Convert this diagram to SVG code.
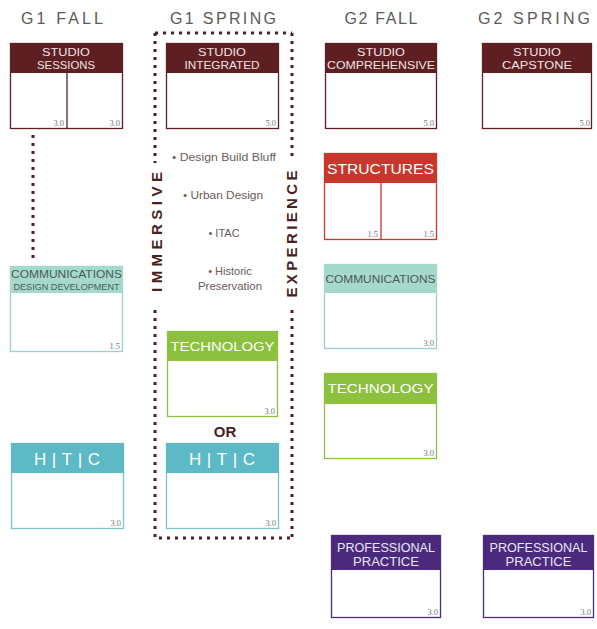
<svg xmlns="http://www.w3.org/2000/svg" width="597" height="629" viewBox="0 0 597 629">
<style>
.bg{fill:#ffffff}
.col{font-family:"Liberation Sans",Arial,sans-serif;font-size:16px;fill:#5a5a5a;text-anchor:middle}
.ht{font-family:"Liberation Sans",Arial,sans-serif;font-size:11px;text-anchor:middle;fill:#f3e2e2}
.htw{font-family:"Liberation Sans",Arial,sans-serif;text-anchor:middle;fill:#ffffff}
.htp{font-family:"Liberation Sans",Arial,sans-serif;text-anchor:middle;fill:#ece6f4}
.htd{font-family:"Liberation Sans",Arial,sans-serif;text-anchor:middle;fill:#4d5a57}
.cr{font-family:"Liberation Serif","Times New Roman",serif;font-size:8.5px;fill:#777777;text-anchor:end}
.bul{font-family:"Liberation Sans",Arial,sans-serif;font-size:11px;fill:#6a5a5a;text-anchor:middle}
.vert{font-family:"Liberation Sans",Arial,sans-serif;font-size:15px;font-weight:bold;fill:#4a1f22;text-anchor:middle}
.or{font-family:"Liberation Sans",Arial,sans-serif;font-size:15px;font-weight:bold;fill:#4a1f22;text-anchor:middle}
.dots{fill:none;stroke:#4a1f22;stroke-width:3;stroke-dasharray:3 5}
.studioH{fill:#5e1f22}
.studioB{fill:#fff;stroke:#5e1f22;stroke-width:1.3}
.strH{fill:#c9372c}
.strB{fill:#fff;stroke:#c9372c;stroke-width:1.3}
.comH{fill:#a4d9cc}
.comB{fill:#fff;stroke:#9ecfd0;stroke-width:1.3}
.tecH{fill:#8dc03f}
.tecB{fill:#fff;stroke:#8dc03f;stroke-width:1.3}
.htcH{fill:#5db9c5}
.htcB{fill:#fff;stroke:#7cc4cc;stroke-width:1.3}
.ppH{fill:#4b2a7d}
.ppB{fill:#fff;stroke:#4b2a7d;stroke-width:1.3}
</style>
<rect class="bg" x="0" y="0" width="597" height="629"/>

<g id="headings">
<text class="col" x="62" y="24" textLength="82" lengthAdjust="spacing">G1 FALL</text>
<text class="col" x="223" y="24" textLength="106" lengthAdjust="spacing">G1 SPRING</text>
<text class="col" x="381" y="24" textLength="73" lengthAdjust="spacing">G2 FALL</text>
<text class="col" x="534" y="24" textLength="112" lengthAdjust="spacing">G2 SPRING</text>
</g>

<g id="connectors">
<path class="dots" d="M155,33 H292 M155,33 V163 M155,310 V538 H292 M292,33 V160 M292,310 V538"/>
<path class="dots" d="M33,135 V263"/>
</g>

<g id="immersive-frame">
<text class="vert" transform="translate(162,232) rotate(-90)" textLength="120" lengthAdjust="spacing">IMMERSIVE</text>
<text class="vert" transform="translate(297,234) rotate(-90)" textLength="127" lengthAdjust="spacing">EXPERIENCE</text>
<text class="bul" x="224" y="161" textLength="104" lengthAdjust="spacingAndGlyphs">• Design Build Bluff</text>
<text class="bul" x="223" y="199" textLength="80" lengthAdjust="spacingAndGlyphs">• Urban Design</text>
<text class="bul" x="224" y="237">• ITAC</text>
<text class="bul" x="230" y="275">• Historic</text>
<text class="bul" x="230" y="290" textLength="64" lengthAdjust="spacingAndGlyphs">Preservation</text>
<text class="or" x="225" y="437">OR</text>
</g>

<g id="studio-sessions">
<rect class="studioB" x="10.5" y="43.5" width="112" height="85"/>
<rect class="studioH" x="10" y="43" width="113" height="30"/>
<line x1="67" y1="73" x2="67" y2="128" stroke="#5e1f22" stroke-width="1.3"/>
<text class="ht" x="66" y="56" textLength="48" lengthAdjust="spacingAndGlyphs">STUDIO</text>
<text class="ht" x="66" y="69" textLength="58" lengthAdjust="spacingAndGlyphs">SESSIONS</text>
<text class="cr" x="64" y="126">3.0</text>
<text class="cr" x="120" y="126">3.0</text>
</g>

<g id="studio-integrated">
<rect class="studioB" x="166.5" y="43.5" width="112" height="85"/>
<rect class="studioH" x="166" y="43" width="113" height="30"/>
<text class="ht" x="222" y="56" textLength="48" lengthAdjust="spacingAndGlyphs">STUDIO</text>
<text class="ht" x="222" y="69" textLength="75" lengthAdjust="spacingAndGlyphs">INTEGRATED</text>
<text class="cr" x="276" y="126">5.0</text>
</g>

<g id="studio-comprehensive">
<rect class="studioB" x="325.5" y="43.5" width="111" height="85"/>
<rect class="studioH" x="325" y="43" width="112" height="30"/>
<text class="ht" x="381" y="56" textLength="48" lengthAdjust="spacingAndGlyphs">STUDIO</text>
<text class="ht" x="381" y="69" textLength="108" lengthAdjust="spacingAndGlyphs">COMPREHENSIVE</text>
<text class="cr" x="434" y="126">5.0</text>
</g>

<g id="studio-capstone">
<rect class="studioB" x="482.5" y="43.5" width="109" height="85"/>
<rect class="studioH" x="482" y="43" width="110" height="30"/>
<text class="ht" x="537" y="56" textLength="48" lengthAdjust="spacingAndGlyphs">STUDIO</text>
<text class="ht" x="537" y="69" textLength="70" lengthAdjust="spacingAndGlyphs">CAPSTONE</text>
<text class="cr" x="590" y="126">5.0</text>
</g>

<g id="structures">
<rect class="strB" x="324.5" y="153.5" width="112" height="86"/>
<rect class="strH" x="324" y="153" width="113" height="30"/>
<line x1="381" y1="183" x2="381" y2="239" stroke="#c9372c" stroke-width="1.3"/>
<text class="htw" x="380.5" y="174" font-size="15.5" textLength="107" lengthAdjust="spacingAndGlyphs">STRUCTURES</text>
<text class="cr" x="378" y="237">1.5</text>
<text class="cr" x="434" y="237">1.5</text>
</g>

<g id="communications-g2">
<rect class="comB" x="324.5" y="264.5" width="112" height="84"/>
<rect class="comH" x="324" y="264" width="113" height="29"/>
<text class="htd" x="380.5" y="283" font-size="11" textLength="110" lengthAdjust="spacingAndGlyphs">COMMUNICATIONS</text>
<text class="cr" x="434" y="346">3.0</text>
</g>

<g id="communications-dd">
<rect class="comB" x="10.5" y="266.5" width="112" height="85"/>
<rect class="comH" x="10" y="266" width="113" height="27"/>
<text class="htd" x="66.5" y="278" font-size="11" textLength="111" lengthAdjust="spacingAndGlyphs">COMMUNICATIONS</text>
<text class="htd" x="66.5" y="290" font-size="8.5" textLength="106" lengthAdjust="spacingAndGlyphs">DESIGN  DEVELOPMENT</text>
<text class="cr" x="120" y="349">1.5</text>
</g>

<g id="technology-g1">
<rect class="tecB" x="167.5" y="331.5" width="110" height="85"/>
<rect class="tecH" x="167" y="331" width="111" height="30"/>
<text class="htw" x="222.5" y="351" font-size="13" textLength="104" lengthAdjust="spacingAndGlyphs">TECHNOLOGY</text>
<text class="cr" x="275" y="414">3.0</text>
</g>

<g id="technology-g2">
<rect class="tecB" x="324.5" y="373.5" width="112" height="85"/>
<rect class="tecH" x="324" y="373" width="113" height="31"/>
<text class="htw" x="380.5" y="393" font-size="13" textLength="106" lengthAdjust="spacingAndGlyphs">TECHNOLOGY</text>
<text class="cr" x="434" y="456">3.0</text>
</g>

<g id="htc-g1-fall">
<rect class="htcB" x="11.5" y="443.5" width="112" height="85"/>
<rect class="htcH" x="11" y="443" width="113" height="30"/>
<text class="htw" x="67" y="465" font-size="17" textLength="66" lengthAdjust="spacing">H|T|C</text>
<text class="cr" x="121" y="526">3.0</text>
</g>

<g id="htc-g1-spring">
<rect class="htcB" x="166.5" y="443.5" width="112" height="85"/>
<rect class="htcH" x="166" y="443" width="113" height="30"/>
<text class="htw" x="222" y="465" font-size="17" textLength="66" lengthAdjust="spacing">H|T|C</text>
<text class="cr" x="276" y="526">3.0</text>
</g>

<g id="professional-practice-g2-fall">
<rect class="ppB" x="331.5" y="535.5" width="109" height="82"/>
<rect class="ppH" x="331" y="535" width="110" height="35"/>
<text class="htp" x="386" y="552" font-size="12" textLength="98" lengthAdjust="spacingAndGlyphs">PROFESSIONAL</text>
<text class="htp" x="386" y="566" font-size="12" textLength="66" lengthAdjust="spacingAndGlyphs">PRACTICE</text>
<text class="cr" x="438" y="615">3.0</text>
</g>

<g id="professional-practice-g2-spring">
<rect class="ppB" x="483.5" y="535.5" width="110" height="82"/>
<rect class="ppH" x="483" y="535" width="111" height="35"/>
<text class="htp" x="538.5" y="552" font-size="12" textLength="98" lengthAdjust="spacingAndGlyphs">PROFESSIONAL</text>
<text class="htp" x="538.5" y="566" font-size="12" textLength="66" lengthAdjust="spacingAndGlyphs">PRACTICE</text>
<text class="cr" x="591" y="615">3.0</text>
</g>
</svg>
